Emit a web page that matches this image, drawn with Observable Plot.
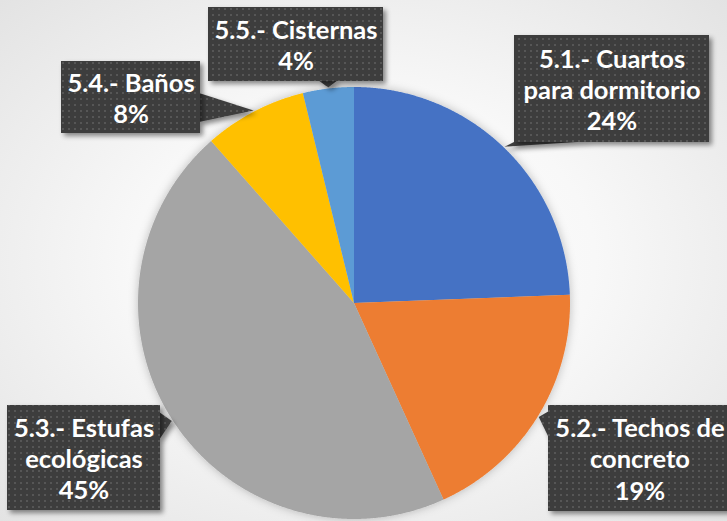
<!DOCTYPE html>
<html>
<head>
<meta charset="utf-8">
<script src="https://cdn.jsdelivr.net/npm/d3@7"></script>
<script src="https://cdn.jsdelivr.net/npm/@observablehq/plot@0.6"></script>
<style>
  html, body { margin: 0; padding: 0; }
  body {
    width: 727px; height: 521px; overflow: hidden;
    background: radial-gradient(ellipse at 50% 50%, #ffffff 0%, #f8f8f8 45%, #e3e3e3 100%);
  }
</style>
</head>
<body>
<div id="chart"></div>
<script>
// ---- data (clockwise from 12 o'clock) ----
const categories = [
  "5.1.- Cuartos para dormitorio",
  "5.2.- Techos de concreto",
  "5.3.- Estufas ecológicas",
  "5.4.- Baños",
  "5.5.- Cisternas"
];
const labelText = [
  "5.1.- Cuartos\npara dormitorio",
  "5.2.- Techos de\nconcreto",
  "5.3.- Estufas\necológicas",
  "5.4.- Baños",
  "5.5.- Cisternas"
];
const values = [24.4, 18.8, 45.3, 7.7, 3.8];
const colors = ["#4472C4", "#ED7D31", "#A5A5A5", "#FFC000", "#5B9BD5"];

// ---- layout (pixels) ----
const W = 727, H = 521;
const cx = 354, cy = 303, R = 216;
const boxes = [
  [514, 35, 709, 142],
  [548, 405, 731, 511],
  [7, 405, 160, 510],
  [61, 61, 200, 133],
  [208, 7, 383, 81]
];
const tailBase = [
  [[516, 141], [592, 141]],
  [[549, 411], [549, 438]],
  [[159, 412], [159, 440]],
  [[199, 93], [199, 122]],
  [[318, 80], [338, 80]]
];

const ux = px => (px - cx) / R;
const uy = py => (cy - py) / R;

// ---- pie geometry via d3.pie ----
const arcs = d3.pie().sort(null).value(d => d)(values);
const piePts = [];
arcs.forEach((a, i) => {
  const n = Math.max(2, Math.ceil((a.endAngle - a.startAngle) / (Math.PI / 720)));
  for (let k = 0; k <= n; k++) {
    const t = a.startAngle + (a.endAngle - a.startAngle) * k / n;
    piePts.push({cat: categories[i], x1: Math.sin(t), y1: Math.cos(t), x2: 0, y2: 0});
  }
});

// ---- callouts ----
const boxData = boxes.map((b, i) => ({
  cat: categories[i], x1: ux(b[0]), x2: ux(b[2]), y1: uy(b[1]), y2: uy(b[3]),
  cxp: ux((b[0] + b[2]) / 2), cyp: uy((b[1] + b[3]) / 2),
  label: labelText[i] + "\n" + Math.round(values[i]) + "%"
}));
const tailPts = [];
arcs.forEach((a, i) => {
  const m = (a.startAngle + a.endAngle) / 2;
  const [p0, p1] = tailBase[i];
  tailPts.push({cat: categories[i], x1: ux(p0[0]), y1: uy(p0[1]), x2: ux(p1[0]), y2: uy(p1[1])});
  tailPts.push({cat: categories[i], x1: Math.sin(m) * 1.005, y1: Math.cos(m) * 1.005, x2: ux(p1[0]), y2: uy(p1[1])});
});

const plot = Plot.plot({
  width: W, height: H, margin: 0,
  style: {background: "transparent", overflow: "visible"},
  x: {domain: [-1, 1], range: [cx - R, cx + R], axis: null},
  y: {domain: [-1, 1], range: [cy + R, cy - R], axis: null},
  color: {domain: categories, range: colors},
  marks: [
    Plot.area(piePts, {x1: "x1", y1: "y1", x2: "x2", y2: "y2", z: "cat", fill: "cat"}),
    Plot.area(tailPts, {x1: "x1", y1: "y1", x2: "x2", y2: "y2", z: "cat", fill: "url(#dots)"}),
    Plot.rect(boxData, {x1: "x1", x2: "x2", y1: "y1", y2: "y2", fill: "url(#dots)"}),
    Plot.text(boxData, {
      x: "cxp", y: "cyp", text: "label", fill: "white",
      fontSize: 25.5, fontWeight: "bold", fontFamily: "Lato, 'Open Sans', sans-serif",
      lineHeight: 1.22, textAnchor: "middle", lineAnchor: "middle"
    })
  ]
});

const svg = d3.select(plot);
const defs = svg.insert("defs", ":first-child");
const pat = defs.append("pattern").attr("id", "dots").attr("patternUnits", "userSpaceOnUse")
  .attr("width", 6).attr("height", 6);
pat.append("rect").attr("width", 6).attr("height", 6).attr("fill", "#3d3d3d");
pat.append("rect").attr("x", 2).attr("y", 2).attr("width", 2).attr("height", 2).attr("fill", "#565656");
const f1 = defs.append("filter").attr("id", "boxShadow").attr("x", "-20%").attr("y", "-20%").attr("width", "150%").attr("height", "150%");
f1.append("feDropShadow").attr("dx", 3).attr("dy", 3).attr("stdDeviation", 2.5).attr("flood-color", "#000").attr("flood-opacity", 0.45);
const f2 = defs.append("filter").attr("id", "pieShadow").attr("x", "-20%").attr("y", "-20%").attr("width", "140%").attr("height", "140%");
f2.append("feDropShadow").attr("dx", 0).attr("dy", 0).attr("stdDeviation", 5).attr("flood-color", "#000").attr("flood-opacity", 0.25);

const areaGroups = plot.querySelectorAll("g[aria-label='area']");
if (areaGroups[0]) areaGroups[0].setAttribute("filter", "url(#pieShadow)");
if (areaGroups[1]) areaGroups[1].setAttribute("filter", "url(#boxShadow)");
const rectGroup = plot.querySelector("g[aria-label='rect']");
if (rectGroup) rectGroup.setAttribute("filter", "url(#boxShadow)");

document.getElementById("chart").appendChild(plot);
</script>
</body>
</html>
